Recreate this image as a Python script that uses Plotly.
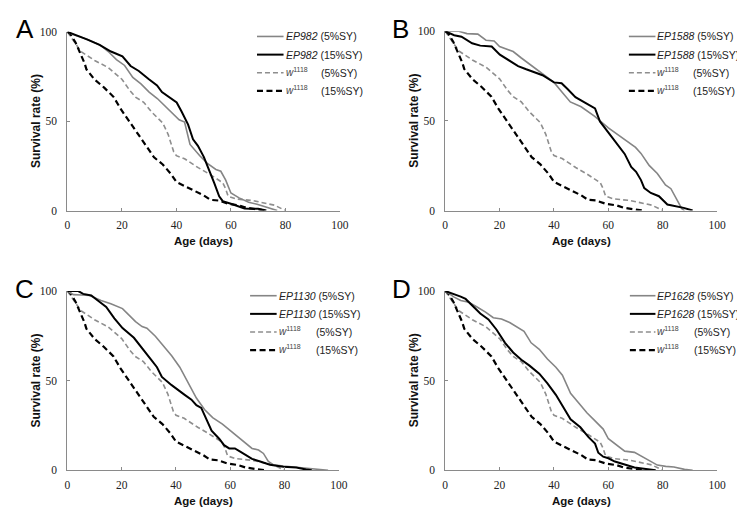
import plotly.graph_objects as go

W, H = 745, 510

# ---------------- data ----------------
# Control w1118 (same in every panel)
w5_x = [0, 5, 10, 15, 20, 23, 25, 28, 31, 35, 37, 39, 40, 43, 48, 52, 57, 58, 59, 62, 68, 72, 76, 80]
w5_y = [100, 89, 84, 80, 73.5, 67, 63.5, 60.6, 55, 49, 42.5, 33, 30.7, 29, 24, 20.5, 15.6, 12.5, 8, 6.5, 5.6, 4.4, 3, 0]
w15_x = [0, 1, 3, 6.3, 7, 10, 13.5, 17, 19.5, 22, 24.5, 27, 29.5, 31.8, 35, 38, 40, 44, 47, 50, 52.5, 55.5, 59, 63, 65.5, 70, 72.6]
w15_y = [100, 99, 94, 82.5, 79, 73.3, 68.8, 63.5, 57, 51.5, 46, 40.5, 35, 29.8, 25.8, 20.5, 16, 13, 11.2, 8.5, 6, 5.6, 3.8, 2.9, 1.6, 0.7, 0]

# Panel A: EP982
a5_x = [0, 3, 7, 12, 15, 18, 21, 24, 27, 30, 33, 36, 39, 41, 43, 45, 48.5, 51.5, 54.5, 56.3, 58.1, 60, 63, 66.5, 69.6, 73.8, 77]
a5_y = [100, 98, 96, 92.7, 89, 84.5, 81.2, 74.5, 70.9, 66.3, 62.7, 58.1, 53.6, 50.8, 49.5, 37, 30.8, 26.2, 23, 22, 17, 9.8, 7.1, 4.7, 3.5, 1.6, 0]
a15_x = [0, 2, 4.6, 7.6, 11.8, 16, 20.2, 23.2, 26.2, 29.8, 32.9, 34.7, 38.3, 40.1, 41.9, 44.3, 46.1, 47.9, 50.1, 52.1, 53.9, 55.7, 57, 60, 63, 65, 67, 70, 73]
a15_y = [100, 99, 97.3, 95.5, 92.7, 89, 86.3, 80.9, 78.1, 73.6, 70, 66.3, 62.7, 60.5, 55.4, 48.1, 39.9, 36.2, 29.9, 22.6, 15.3, 8, 5.3, 3.8, 2.5, 1.2, 1, 1, 0]

# Panel B: EP1588
b5_x = [0, 5, 8, 12, 15, 18, 20, 25, 28, 32, 35, 40, 43, 46, 50, 55, 60, 65, 70, 72, 75, 78, 81, 83, 85, 87, 88]
b5_y = [100, 100, 98.7, 98.4, 95, 94.6, 91.5, 88.7, 85.1, 80.6, 77, 71.5, 66, 60.6, 57.9, 52.5, 46.1, 40.7, 35.2, 31.9, 25.2, 20.7, 14.3, 12.2, 7, 1.1, 0]
b15_x = [0, 3.3, 6, 9.9, 12.9, 17.1, 20.1, 23.2, 26.8, 29.8, 32.8, 35.8, 40, 42.8, 44.9, 47.9, 50.9, 55.1, 56.9, 60, 63, 66, 68.4, 70.2, 72, 73.2, 75.6, 78.6, 81.7, 84.7, 87.7, 91]
b15_y = [100, 97.8, 97, 93.3, 92, 91.5, 87, 84.2, 80.6, 78.8, 77, 75.5, 71.5, 71, 67.9, 63.3, 60.6, 57, 49.7, 43.4, 37.9, 31.6, 24.3, 21.6, 17, 12.5, 9.8, 8, 3.4, 2.5, 1.5, 0]

# Panel C: EP1130
c5_x = [0, 2.2, 5.2, 8.2, 12.4, 16, 20.3, 23.3, 25.1, 27.5, 29.3, 32.4, 35.4, 38.4, 41.4, 44.4, 47.5, 50.5, 53.5, 57.1, 60.1, 63.2, 66.2, 68, 70.4, 72.2, 74, 75.8, 79.5, 84.3, 90, 96]
c5_y = [100, 98, 97.8, 97.5, 94.7, 92.9, 90.2, 85.7, 82.9, 80.2, 79.3, 74.8, 69.3, 63.9, 57.5, 49.4, 40.3, 33.9, 29.4, 25.8, 22.1, 18.5, 14.9, 12.2, 11.3, 9.4, 4.9, 3.1, 2.4, 1.6, 0.8, 0]
c15_x = [0, 2, 4, 5.8, 8.8, 11.2, 14.3, 17.3, 20.3, 24.5, 27.5, 30.6, 33, 34.8, 38.4, 41.4, 43.2, 45.7, 47.5, 49.3, 51.1, 53.1, 55.9, 57.7, 59.6, 61.7, 63.8, 65.6, 68, 71, 74.6, 79.5, 84.3, 87.9, 90]
c15_y = [100, 100, 100, 98.4, 97.5, 94.7, 91.1, 84.8, 79.3, 73.9, 68.4, 62.1, 57.5, 52.1, 47.5, 43.9, 42.1, 39.4, 36.3, 34.8, 28.5, 22.1, 17.6, 14, 12.2, 12.2, 10.3, 8.5, 6.4, 4.9, 3.1, 2, 1.5, 0.4, 0]

# Panel D: EP1628
d5_x = [0, 3.3, 5.7, 8.7, 11.7, 14.7, 17.7, 20.7, 23.7, 26.8, 29, 31.6, 34.6, 37.6, 40.7, 43.1, 46.1, 49.1, 52.1, 55.1, 58.1, 60, 63, 66, 69.6, 72.6, 75, 78, 81.1, 84.1, 88, 91]
d5_y = [100, 96.6, 94.7, 93.8, 91.1, 88.4, 85.1, 84.4, 82.4, 79.7, 77.5, 71.1, 67.5, 62.1, 57.5, 53, 43, 37.6, 32.1, 27.6, 23, 17.6, 14, 10.7, 10, 7.6, 5.4, 2.9, 2.2, 1.8, 0.5, 0]
d15_x = [0, 3.3, 5.7, 7.5, 9.9, 12.9, 15.9, 18.9, 22, 25, 28, 31, 34.6, 37.6, 40.7, 43.1, 46.1, 49.7, 52.7, 55.1, 56.3, 58.1, 60, 62.4, 66, 69.6, 73.8, 77.4]
d15_y = [100, 98.4, 96.9, 95.6, 92, 87.5, 84.2, 78.4, 71.1, 65.7, 61.7, 58.4, 53.9, 48.5, 42.1, 35.8, 28.5, 24, 18.5, 14.9, 9.8, 7.6, 6.7, 4.9, 3.1, 1.6, 0.7, 0]

panel_letters = ["A", "B", "C", "D"]
strain_names = ["EP982", "EP1588", "EP1130", "EP1628"]
control_name = "w"
control_sup = "1118"
conditions = ["(5%SY)", "(15%SY)"]
x_ticks = [0, 20, 40, 60, 80, 100]
y_ticks = [0, 50, 100]
x_title = "Age (days)"
y_title = "Survival rate (%)"

panels = [
    (a5_x, a5_y, a15_x, a15_y),
    (b5_x, b5_y, b15_x, b15_y),
    (c5_x, c5_y, c15_x, c15_y),
    (d5_x, d5_y, d15_x, d15_y),
]

# ---------------- layout geometry (pixels) ----------------
# plot rectangles: (left, right, top, bottom)
rects = [(57.3, 334.3, 18.3, 201.3), (441.3, 717.7, 17.7, 201.3),
         (57.3, 333.3, 283.7, 467.3), (441.3, 717.7, 283.7, 467.3)]
legend_line = [(250, 277, 23), (628, 655, 23), (243, 270, 288.5), (629, 655, 288.5)]
cond_col = [313, 691, 308, 692]
letter_pos = [(14, 15), (396, 15), (14, 282), (397, 282)]

GRAY = "#858585"
GRAYD = "#8e8e8e"
BLACK = "#000000"
styles = [
    dict(color=GRAY, width=1.6, dash="solid"),
    dict(color=BLACK, width=2.0, dash="solid"),
    dict(color=GRAYD, width=1.6, dash="5px,3px"),
    dict(color=BLACK, width=2.2, dash="6px,3.5px"),
]

def px(x):
    return x / W

def py(y):
    return 1 - y / H

def note(text, x, y, size, color="#222", family="Arial", xanchor="center", angle=0):
    return dict(text=text, x=px(x), y=py(y), xref="paper", yref="paper",
                xanchor=xanchor, yanchor="middle", showarrow=False, textangle=angle,
                font=dict(family=family, size=size, color=color))

fig = go.Figure()
shapes = []
annotations = []

for i, (x5, y5, x15, y15) in enumerate(panels):
    n = "" if i == 0 else str(i + 1)
    xa, ya = "x" + n, "y" + n
    series = [(x5, y5), (x15, y15), (w5_x, w5_y), (w15_x, w15_y)]
    # draw controls first, strains on top
    for k in [2, 3, 0, 1]:
        sx, sy = series[k]
        fig.add_trace(go.Scatter(x=sx, y=sy, mode="lines", line=styles[k],
                                 xaxis=xa, yaxis=ya, showlegend=False,
                                 hoverinfo="skip"))
    l, r, t, b = rects[i]
    fig.layout["xaxis" + n] = dict(
        domain=[px(l), px(r)], anchor=ya, range=[0, 100], tickvals=x_ticks,
        showgrid=False, zeroline=False, showline=True, linecolor="#8a8a8a", linewidth=1,
        ticks="inside", ticklen=3, tickcolor="#8a8a8a",
        tickfont=dict(family="Liberation Serif", size=11.5, color="#222"), ticklabelstandoff=4)
    fig.layout["yaxis" + n] = dict(
        domain=[py(b), py(t)], anchor=xa, range=[0, 100], tickvals=y_ticks,
        showgrid=False, zeroline=False, showline=True, linecolor="#8a8a8a", linewidth=1,
        ticks="inside", ticklen=3, tickcolor="#8a8a8a",
        tickfont=dict(family="Liberation Serif", size=11.5, color="#222"), ticklabelstandoff=7)

    # axis titles
    annotations.append(note("<b>%s</b>" % x_title, (l + r) / 2, b + 31, 11.5, "#111"))
    annotations.append(note("<b>%s</b>" % y_title, l - 32, (t + b) / 2, 12, "#111", angle=-90))
    # panel letter
    lx, ly = letter_pos[i]
    annotations.append(note(panel_letters[i], lx, ly, 26, "#000"))

    # legend
    x0, x1, y0 = legend_line[i]
    for k in range(4):
        yy = y0 + k * 18.6
        st = styles[k]
        shapes.append(dict(type="line", xref="paper", yref="paper", x0=px(x0), x1=px(x1),
                           y0=py(yy), y1=py(yy),
                           line=dict(color=st["color"], width=st["width"], dash=st["dash"])))
        if k < 2:
            txt = "<i>%s</i> %s" % (strain_names[i], conditions[k])
            annotations.append(note(txt, x1, yy, 10.5, "#222", xanchor="left"))
        else:
            txt = "<i>%s</i><sup>%s</sup>" % (control_name, control_sup)
            annotations.append(note(txt, x1, yy - 1, 10, "#444", xanchor="left"))
            annotations.append(note(conditions[k - 2], cond_col[i], yy, 10.5, "#222", xanchor="left"))

fig.update_layout(width=W, height=H, margin=dict(l=0, r=0, t=0, b=0),
                  paper_bgcolor="white", plot_bgcolor="white",
                  shapes=shapes, annotations=annotations, showlegend=False)

fig.write_html("out.html")
